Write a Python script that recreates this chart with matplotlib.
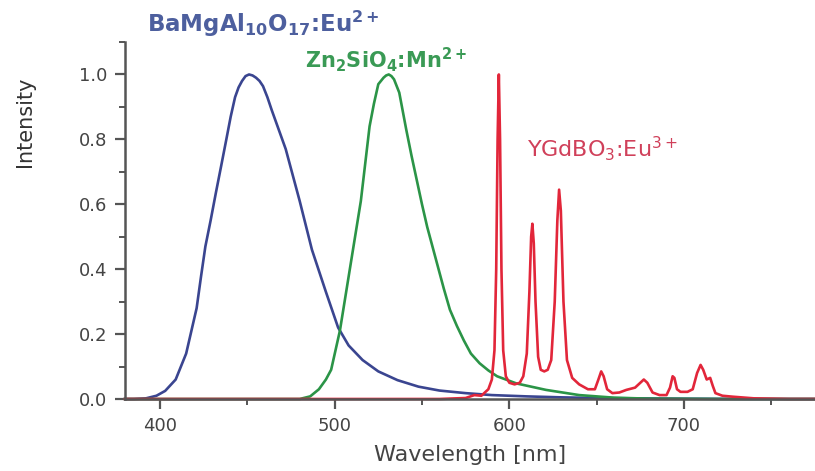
import matplotlib
matplotlib.use("Agg")
import matplotlib.pyplot as plt
from matplotlib.ticker import MultipleLocator, FormatStrFormatter

plt.rcParams['mathtext.default'] = 'regular'

# emission spectra (wavelength nm, normalised intensity)
wl_blue = [380, 385, 392, 398, 403, 409, 415, 421, 423.5, 426, 429, 432, 435, 438,
           440.5, 443, 445, 447, 449, 451, 453, 455, 457, 459, 461.5, 464, 468,
           472, 476, 480, 487, 495, 502, 508, 516, 525, 536, 548, 560, 575, 590,
           610, 630, 650, 670, 700, 740, 775]
int_blue = [0.0, 0.0, 0.002, 0.01, 0.025, 0.06, 0.14, 0.28, 0.377, 0.47, 0.55,
            0.635, 0.717, 0.80, 0.87, 0.93, 0.96, 0.98, 0.995, 1.0, 0.997, 0.99,
            0.98, 0.964, 0.93, 0.89, 0.83, 0.77, 0.69, 0.61, 0.46, 0.33, 0.22,
            0.165, 0.12, 0.085, 0.058, 0.038, 0.026, 0.018, 0.012, 0.008, 0.005,
            0.003, 0.002, 0.001, 0.0, 0.0]

wl_green = [380, 470, 480, 486, 491, 495, 498, 503, 509, 515, 520, 522.5, 525, 528,
            529.5, 531, 532.5, 534, 537, 541, 544, 547, 550, 553, 556, 559, 562.5,
            566, 570, 574, 578, 583, 588, 593, 604, 621, 640, 660, 680, 720, 775]
int_green = [0.0, 0.0, 0.0, 0.008, 0.03, 0.06, 0.09, 0.21, 0.41, 0.61, 0.84, 0.91,
             0.97, 0.99, 0.997, 1.0, 0.995, 0.985, 0.944, 0.83, 0.75, 0.675, 0.6,
             0.53, 0.47, 0.41, 0.34, 0.275, 0.225, 0.18, 0.14, 0.11, 0.088, 0.07,
             0.048, 0.028, 0.012, 0.004, 0.001, 0.0, 0.0]

wl_red = [380, 560, 575, 580, 584, 588, 590, 591.5, 592.5, 593.3, 594, 594.7, 595.5,
          596.5, 598, 600, 603, 606, 608, 610, 611.5, 612.5, 613.2, 614, 615, 616.5,
          618, 620, 622, 624, 626, 627.5, 628.5, 629.5, 631, 633, 636, 640, 645,
          649, 651, 652.6, 654, 656, 659, 663, 667, 672, 675, 677, 679, 682, 686,
          690, 692, 693.5, 694.5, 696, 698, 702, 705, 707.5, 709.5, 711, 713, 715,
          716.5, 718, 722, 728, 740, 760, 775]
int_red = [0.0, 0.0, 0.003, 0.012, 0.01, 0.03, 0.06, 0.15, 0.4, 0.8, 1.0, 0.8, 0.4,
           0.15, 0.07, 0.05, 0.045, 0.05, 0.07, 0.14, 0.33, 0.5, 0.54, 0.48, 0.3,
           0.13, 0.09, 0.085, 0.09, 0.12, 0.3, 0.55, 0.645, 0.58, 0.3, 0.12, 0.065,
           0.045, 0.03, 0.03, 0.06, 0.085, 0.07, 0.03, 0.018, 0.02, 0.028, 0.035,
           0.05, 0.06, 0.05, 0.02, 0.012, 0.012, 0.035, 0.07, 0.065, 0.03, 0.022,
           0.022, 0.03, 0.08, 0.105, 0.09, 0.06, 0.065, 0.04, 0.018, 0.01, 0.007,
           0.002, 0.0, 0.0]

c_blue = '#3a4590'
c_green = '#2b9447'
c_red = '#e2263a'

W, H = 815, 471
fig = plt.figure(figsize=(W / 100, H / 100), dpi=100)
ax = fig.add_axes([0.1534, 0.1529, 0.8466, 0.7579])

ax.plot(wl_blue, int_blue, color=c_blue, lw=1.9, clip_on=False)
ax.plot(wl_green, int_green, color=c_green, lw=1.9, clip_on=False)
ax.plot(wl_red, int_red, color=c_red, lw=1.9, clip_on=False)

ax.set_xlim(380, 775)
ax.set_ylim(0, 1.1)

for s in ['top', 'right']:
    ax.spines[s].set_visible(False)
for s in ['left', 'bottom']:
    ax.spines[s].set_color('#555555')
    ax.spines[s].set_linewidth(1.8)

ax.xaxis.set_major_locator(MultipleLocator(100))
ax.xaxis.set_minor_locator(MultipleLocator(50))
ax.yaxis.set_major_locator(MultipleLocator(0.2))
ax.yaxis.set_minor_locator(MultipleLocator(0.1))
ax.yaxis.set_major_formatter(FormatStrFormatter('%.1f'))
ax.tick_params(which='major', direction='out', length=7, width=1.6,
               color='#555555', labelsize=13, labelcolor='#444444', pad=6)
ax.tick_params(which='minor', direction='out', length=4, width=1.4,
               color='#555555')

ax.set_xlabel('Wavelength [nm]', fontsize=16, color='#444444', labelpad=7)
ax.set_ylabel('Intensity', fontsize=15, color='#333333',
              family=['Liberation Sans Narrow', 'DejaVu Sans'])
ax.yaxis.set_label_coords(-0.13, 0.776)

# phosphor labels, placed by pixel position (x, baseline from top)
fig.text(147 / W, 1 - 32 / H,
         r'BaMgAl$_{\mathbf{10}}$O$_{\mathbf{17}}$:Eu$^{\mathbf{2+}}$',
         color='#4d5f9e', fontsize=16.5, fontweight='bold',
         va='baseline', ha='left')
fig.text(305 / W, 1 - 68 / H,
         r'Zn$_{\mathbf{2}}$SiO$_{\mathbf{4}}$:Mn$^{\mathbf{2+}}$',
         color='#3a9a55', fontsize=15, fontweight='bold',
         va='baseline', ha='left')
fig.text(527 / W, 1 - 157 / H, r'YGdBO$_{3}$:Eu$^{3+}$',
         color='#d0405a', fontsize=16, va='baseline', ha='left')

fig.savefig('out.png', dpi=100)
